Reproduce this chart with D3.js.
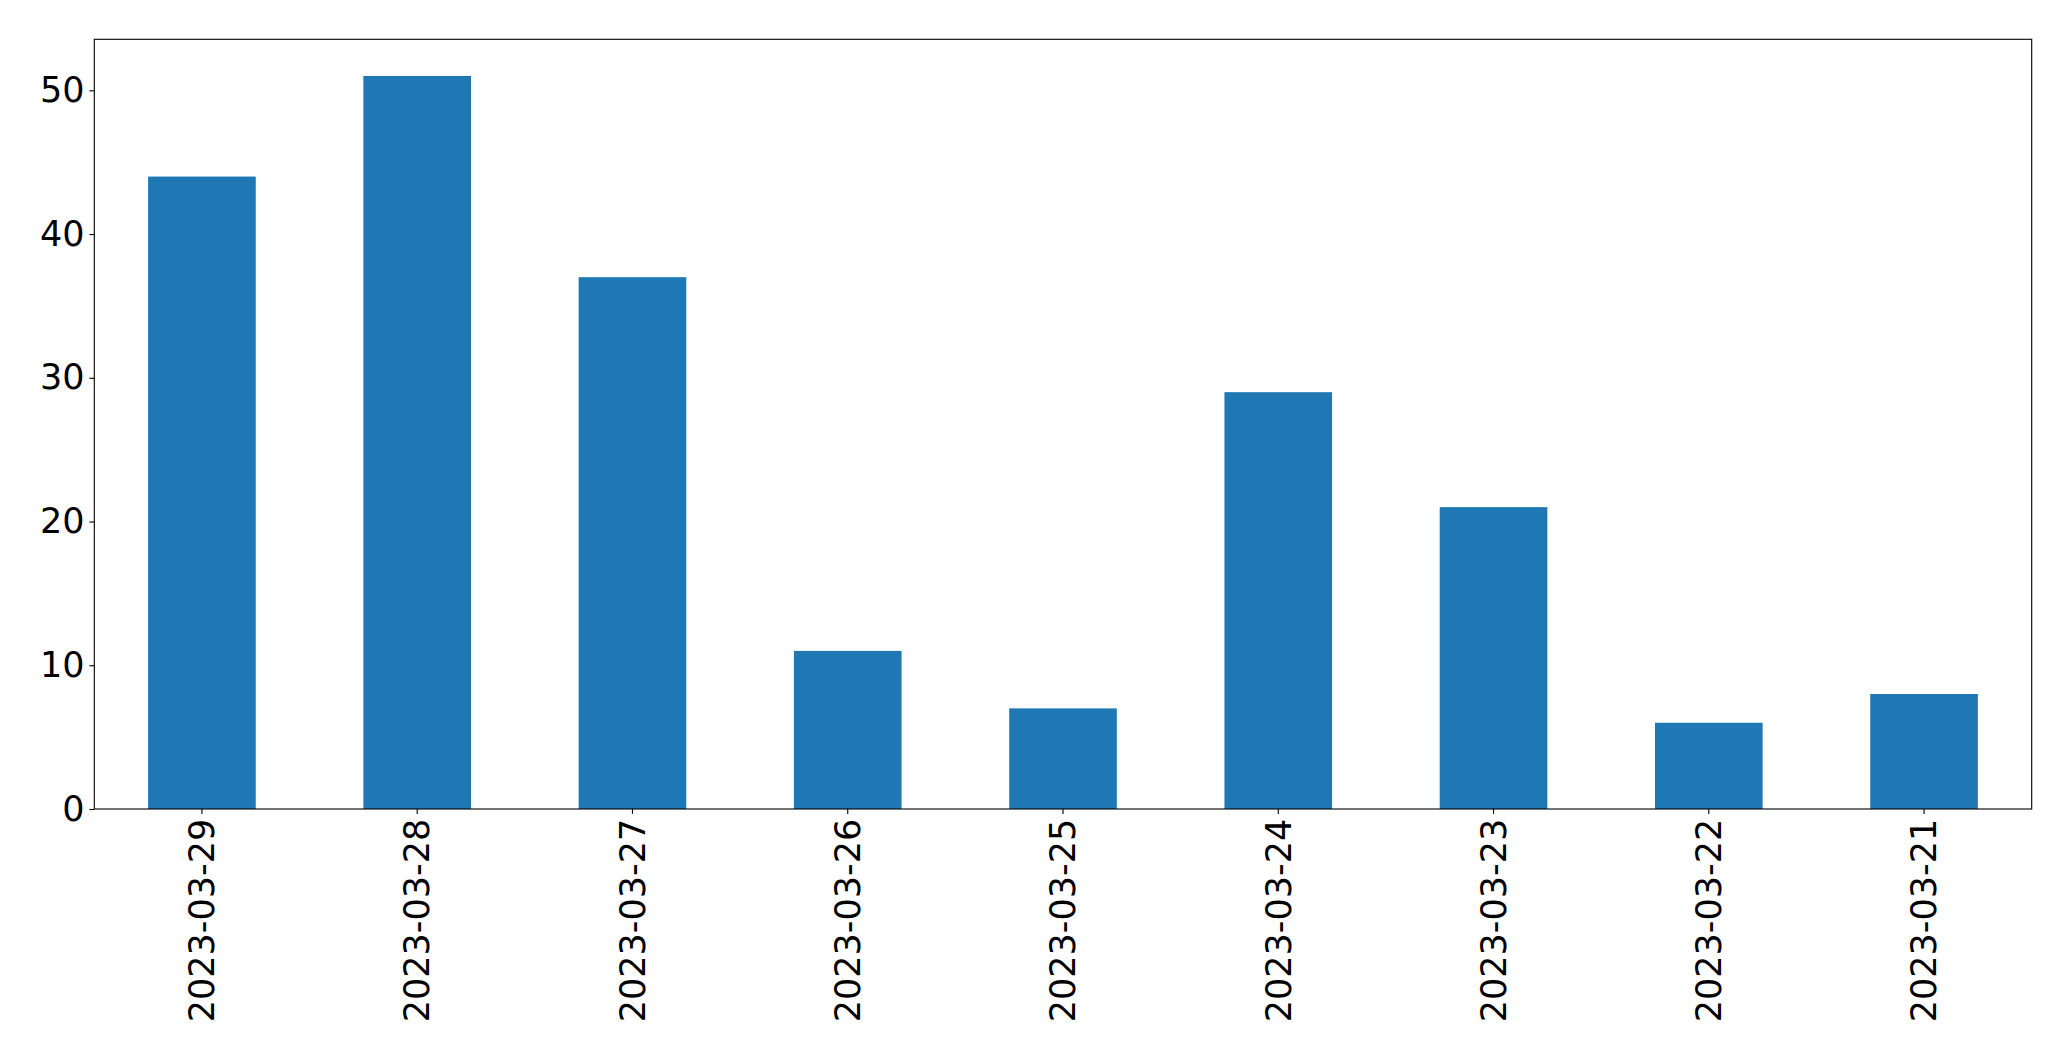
<!DOCTYPE html>
<html><head><meta charset="utf-8">
<script src="https://cdn.jsdelivr.net/npm/d3@7"></script>
<style>body{margin:0;background:#fff}svg{display:block}</style>
</head><body>
<script>
const categories = ["2023-03-29","2023-03-28","2023-03-27","2023-03-26","2023-03-25","2023-03-24","2023-03-23","2023-03-22","2023-03-21"];
const values = [44, 51, 37, 11, 7, 29, 21, 6, 8];
const yTicks = [0, 10, 20, 30, 40, 50];

const W = 2071, H = 1061;
const m = {left: 94.3, right: 2031.7, top: 39.3, bottom: 809};
const svg = d3.select("body").append("svg").attr("width", W).attr("height", H);

const x = d3.scaleBand().domain(categories).range([m.left, m.right]).paddingInner(0.5).paddingOuter(0.25);
const y = d3.scaleLinear().domain([0, d3.max(values) * 1.05]).range([m.bottom, m.top]);

svg.append("g").selectAll("rect").data(values).join("rect")
  .attr("x", (d, i) => x(categories[i]))
  .attr("width", x.bandwidth())
  .attr("y", d => y(d))
  .attr("height", d => y(0) - y(d))
  .attr("fill", "#1f77b4");

const font = "DejaVu Sans";
const fs = 35;

const ya = svg.append("g").attr("transform", `translate(${m.left},0)`)
  .call(d3.axisLeft(y).tickValues(yTicks).tickSize(4.9).tickPadding(4.9).tickFormat(d3.format("d")));
ya.select(".domain").remove();
ya.selectAll("line").attr("stroke", "#000").attr("stroke-width", 1.1);
ya.selectAll("text").attr("font-family", font).attr("font-size", fs).attr("fill", "#000");

const xa = svg.append("g").attr("transform", `translate(0,${m.bottom})`)
  .call(d3.axisBottom(x).tickSize(4.9).tickPadding(4.9));
xa.select(".domain").remove();
xa.selectAll("line").attr("stroke", "#000").attr("stroke-width", 1.1);
xa.selectAll("text").attr("font-family", font).attr("font-size", fs).attr("fill", "#000")
  .attr("transform", "rotate(-90)")
  .attr("text-anchor", "end")
  .attr("dy", "0.35em")
  .attr("x", -9.8)
  .attr("y", 0);

svg.append("rect").attr("x", m.left).attr("y", m.top)
  .attr("width", m.right - m.left).attr("height", m.bottom - m.top)
  .attr("fill", "none").attr("stroke", "#000").attr("stroke-width", 1.1);
</script>
</body></html>
